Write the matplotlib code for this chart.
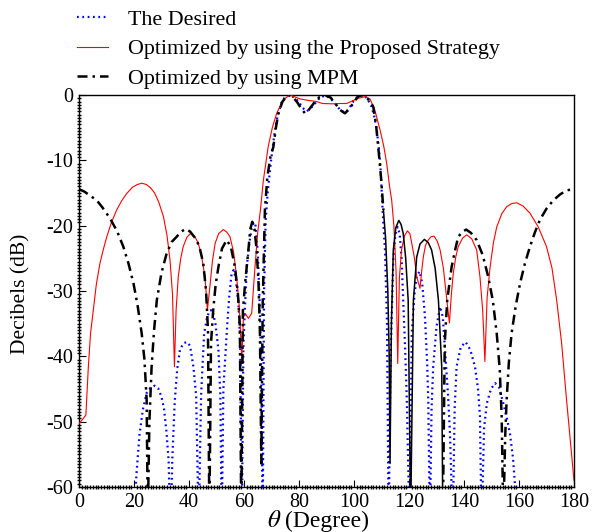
import numpy as np
import matplotlib
matplotlib.use("Agg")
import matplotlib.pyplot as plt
from matplotlib.ticker import MultipleLocator
from matplotlib.lines import Line2D

plt.rcParams['font.family'] = ['Liberation Serif', 'DejaVu Serif']
plt.rcParams['mathtext.fontset'] = 'stix'
plt.rcParams['axes.unicode_minus'] = False

# ---------------- data ----------------
red_theta = [0, 1, 2.5, 3.4, 4.2, 5.2, 6.3, 7.6, 8.8, 10.1, 11.8, 13.7, 15.5, 17.3, 19.5, 21.2, 22.8,
             24.5, 26.0, 27.5, 29.0, 30.7, 32.0, 33.1, 34.0, 34.7, 35.3, 36.1, 37.0, 37.9, 39.2, 40.5,
             42.0, 43.3, 44.5, 45.8, 46.7, 47.6, 48.5, 49.5, 50.8, 52.5, 53.8, 54.9, 56.2, 57.3, 58.3,
             59.2, 59.8, 60.7, 61.6, 62.8, 64.0, 65.0, 66.0, 67.0, 68.0, 68.8, 70.3, 71.9, 73.5, 75.0,
             76.7, 78.5, 80.4, 83.0, 86.4, 88.5, 92.0, 95.0, 97.3, 99.5, 101.6, 104.0, 105.8, 107.5,
             109.5, 110.8, 111.9, 113.0, 113.7, 114.5, 115.3, 115.9, 116.5, 117.3, 118.3, 119.4, 120.3,
             121.0, 122.0, 122.8, 124.0, 124.6, 125.2, 126.0, 127.0, 128.0, 129.1, 130.3, 131.3, 132.5,
             133.5, 134.7, 135.4, 136.1, 137.0, 137.9, 139.5, 141.0, 142.8, 144.6, 145.8, 146.8, 147.6,
             148.4, 149.5, 150.7, 151.9, 153.7, 155.5, 157.4, 159.2, 161.5, 164.0, 167.0, 170.0, 172.0,
             173.7, 175.5, 177.3, 180.0]
red_db = [-50.3, -49.8, -49.0, -41.6, -36.5, -32.9, -29.0, -25.8, -23.7, -21.7, -19.5, -17.6, -16.2,
          -15.1, -14.1, -13.7, -13.5, -13.7, -14.2, -15.0, -16.4, -18.6, -21.5, -25.3, -30.5, -41.6,
          -33.0, -27.8, -25.0, -23.2, -21.8, -21.2, -21.6, -22.6, -24.5, -27.8, -32.9, -29.3, -25.5,
          -22.7, -21.2, -20.6, -21.0, -21.7, -24.0, -27.8, -32.5, -40.6, -33.9, -33.6, -34.2, -33.4,
          -26.3, -21.0, -17.5, -13.2, -10.2, -7.9, -5.0, -2.8, -1.4, -0.5, 0.0, -0.3, -0.6, -0.8,
          -1.0, -1.3, -1.35, -1.3, -1.3, -0.9, -0.5, -0.25, -0.6, -2.2, -5.4, -7.8, -10.5, -14.2,
          -16.1, -20.0, -27.0, -41.1, -28.0, -23.7, -21.6, -20.8, -21.2, -22.7, -25.0, -27.8, -29.6,
          -27.0, -24.8, -23.0, -22.2, -21.7, -21.6, -22.4, -23.7, -26.5, -30.4, -34.9, -30.5, -27.3,
          -24.8, -23.2, -21.9, -21.4, -22.0, -23.7, -27.8, -33.0, -40.8, -31.0, -26.3, -22.6, -20.2,
          -18.2, -17.1, -16.6, -16.5, -17.0, -18.1, -20.2, -23.2, -26.5, -31.4, -38.0, -46.7, -59.0]

mpm_theta = [0, 2, 4, 6.4, 8.5, 11.3, 13.8, 16.1, 18.0, 19.8, 21.3, 22.8, 23.8, 24.6, 25.0, 25.6, 26.4,
             27.3, 28.3, 30.0, 31.9, 33.7, 35.5, 37.2, 38.8, 40.4, 42.8, 44.0, 45.2, 46.2, 46.9, 47.4,
             48.0, 48.8, 49.7, 50.7, 52.0, 53.7, 55.2, 56.7, 57.8, 58.5, 59.0, 59.6, 60.4, 61.6, 62.3,
             63.0, 63.8, 64.6, 65.3, 65.8, 66.3, 66.8, 67.6, 68.5, 69.6, 70.7, 71.6, 72.5, 74.0, 75.5,
             76.5, 78.0, 79.5, 81.0, 82.2, 83.5, 85.5, 87.5, 89.5, 91.5, 93.0, 95.0, 96.7, 98.2, 99.8,
             101.3, 102.8, 104.5, 105.7, 107.0, 108.0, 108.8, 109.8, 110.7, 111.5, 112.3, 112.8, 113.1,
             113.6, 114.3, 115.2, 116.3, 117.1, 117.9, 118.8, 119.7, 120.6, 121.6, 122.8, 124.0, 125.6,
             127.0, 128.2, 129.5, 130.7, 131.9, 132.3, 133.0, 133.9, 135.5, 137.0, 137.9, 139.5, 140.8,
             142.5, 144.6, 146.8, 148.8, 150.5, 151.9, 153.0, 153.7, 154.3, 155.0, 155.5, 156.3, 157.3,
             158.8, 160.4, 162.2, 164.0, 165.8, 167.6, 170.0, 172.5, 175.0, 177.3, 180.0]
mpm_db = [-14.4, -14.8, -15.4, -16.1, -17.2, -18.9, -20.8, -23.2, -25.8, -28.8, -32.2, -36.5, -40.5,
          -46.7, -65.0, -50.0, -41.6, -36.0, -31.4, -27.2, -24.2, -22.5, -21.7, -20.9, -20.5, -20.9,
          -22.2, -23.6, -25.8, -30.0, -36.0, -65.0, -38.0, -32.9, -29.0, -26.3, -23.5, -22.2, -23.2,
          -26.3, -30.5, -35.5, -65.0, -33.0, -28.8, -23.7, -20.5, -19.4, -20.5, -23.7, -29.0, -36.5,
          -56.4, -32.0, -17.6, -12.5, -9.5, -7.9, -5.0, -2.8, -1.0, -0.2, 0.0, -0.4, -1.2, -2.2, -2.8,
          -2.3, -1.2, -0.3, 0.0, -0.4, -1.2, -2.3, -2.8, -2.2, -1.2, -0.3, 0.0, -0.4, -0.9, -1.8, -4.5,
          -7.9, -12.5, -17.6, -22.0, -30.0, -40.0, -56.4, -35.0, -23.7, -20.3, -19.2, -19.8, -21.2,
          -25.0, -31.4, -65.0, -31.4, -24.8, -22.8, -22.1, -22.6, -23.7, -26.5, -31.4, -41.6, -65.0,
          -38.0, -31.4, -26.3, -23.3, -21.7, -20.9, -20.6, -21.1, -22.2, -24.5, -27.8, -31.5, -36.5,
          -42.0, -49.2, -65.0, -52.0, -46.7, -41.0, -36.5, -32.3, -28.8, -25.7, -23.2, -21.0, -19.1,
          -17.4, -16.1, -15.2, -14.6, -14.4]

des_theta = [19.8, 20.9, 22.0, 23.2, 24.6, 26.0, 27.5, 28.8, 30.0, 30.9, 31.8, 32.6, 33.3, 33.9, 34.8,
             35.7, 36.7, 38.0, 39.2, 40.4, 41.6, 42.6, 43.5, 44.4, 45.5, 46.6, 47.5, 48.5, 49.6, 50.7,
             51.4, 51.9, 52.5, 53.7, 54.6, 55.5, 56.2, 57.0, 58.0, 58.6, 59.2, 59.8, 61.0, 62.0, 62.8,
             63.6, 64.2, 65.0, 65.8, 66.4, 66.8, 67.3, 67.9, 68.6, 69.7, 70.8, 71.9, 73.7, 75.2, 76.6,
             78.3, 79.8, 81.4, 82.8, 84.3, 85.8, 87.8, 89.7, 91.4, 93.1, 95.0, 96.7, 98.2, 99.7, 101.5,
             103.2, 104.8, 106.4, 107.5, 108.3, 109.0, 109.6, 110.4, 111.3, 112.0, 112.6, 113.3, 114.3,
             115.0, 115.8, 116.6, 117.3, 117.9, 118.6, 119.2, 120.2, 121.0, 122.0, 122.8, 123.8, 124.8,
             125.8, 126.6, 127.0, 127.6, 128.2, 128.8, 130.0, 131.3, 132.3, 133.1, 134.2, 134.9, 135.9,
             136.6, 137.3, 138.8, 140.6, 142.3, 144.0, 145.1, 145.8, 146.4, 147.3, 148.3, 149.8, 151.3,
             152.8, 154.3, 155.7, 156.7, 157.8, 158.6, 159.6]
des_db = [-66.0, -58.0, -52.0, -48.2, -45.6, -44.8, -44.5, -44.9, -46.2, -48.0, -51.5, -56.0, -68.0,
          -56.0, -47.0, -42.0, -39.0, -38.0, -37.8, -38.4, -41.6, -46.0, -66.0, -46.0, -36.5, -34.0,
          -33.0, -32.9, -35.0, -39.0, -46.0, -66.0, -45.0, -36.5, -31.0, -27.3, -26.8, -28.0, -32.0,
          -38.0, -66.0, -38.0, -26.3, -22.5, -20.4, -19.5, -20.0, -24.0, -33.0, -46.7, -66.0, -30.0,
          -19.0, -15.0, -10.5, -6.8, -3.8, -1.0, -0.2, 0.0, -0.4, -1.0, -2.0, -2.5, -2.0, -1.3, -0.3,
          -0.1, -0.5, -1.3, -2.3, -2.7, -2.1, -1.0, -0.2, 0.0, -0.5, -1.8, -3.5, -5.4, -8.0, -10.8,
          -17.6, -24.0, -35.0, -66.0, -40.0, -25.0, -21.5, -20.2, -21.2, -25.0, -31.4, -39.0, -46.7,
          -66.0, -36.5, -30.5, -27.8, -27.0, -28.8, -33.9, -41.0, -46.7, -66.0, -48.0, -41.6, -35.5,
          -32.4, -34.0, -39.0, -46.0, -51.8, -66.0, -48.0, -41.6, -38.6, -37.8, -39.0, -41.6, -45.0,
          -49.2, -66.0, -51.0, -47.2, -45.0, -44.1, -44.8, -47.2, -49.7, -51.8, -55.5, -60.0, -66.0]

x_ticks = [0, 20, 40, 60, 80, 100, 120, 140, 160, 180]
y_ticks = [0, -10, -20, -30, -40, -50, -60]
labels = ["The Desired", "Optimized by using the Proposed Strategy", "Optimized by using MPM"]

# ---------------- figure ----------------
W, H = 592, 532
fig = plt.figure(figsize=(W/100, H/100), dpi=100)
ax = fig.add_axes([79/W, 1-487/H, (574-79)/W, (487-95)/H])

mpm_t = np.array(mpm_theta)
mpm_v = np.array(mpm_db)
dd_style = dict(color='black', lw=1.8, dashes=(4, 2, 1, 2))
blue_style = dict(color='blue', lw=1.6, linestyle=(0, (0.8, 1.6)))

ax.plot(des_theta, des_db, zorder=2, **blue_style)
ax.plot(red_theta, red_db, color='red', lw=0.8, zorder=3)
left = mpm_t <= 110.7
solid = (mpm_t >= 110.5) & (mpm_t <= 132.3)
right = mpm_t >= 132.3
ax.plot(mpm_t[left], mpm_v[left], zorder=4, **dd_style)
ax.plot(mpm_t[solid], mpm_v[solid], color='black', lw=1.1, zorder=4)
ax.plot(mpm_t[right], mpm_v[right], zorder=4, **dd_style)

ax.set_xlim(0, 180)
ax.set_ylim(-60, 0)
ax.set_xticks(x_ticks)
ax.set_yticks(y_ticks)
ax.xaxis.set_minor_locator(MultipleLocator(1))
ax.yaxis.set_minor_locator(MultipleLocator(0.5))
ax.tick_params(which='major', direction='in', length=5, width=0.8, labelsize=14.5, pad=4)
ax.tick_params(which='minor', direction='inout', length=2.5, width=1.0)
for sp in ax.spines.values():
    sp.set_linewidth(1.0)

ax.set_ylabel("Decibels (dB)", fontsize=15.5, va='center')
ax.yaxis.set_label_coords(-(79-21)/495, (487-294)/392)

# x label: large italic theta followed by "(Degree)"
fig.text(267/W, 1-527/H, r"$\theta$", fontsize=18, ha='left', va='baseline')
fig.text(285/W, 1-527/H, "(Degree)", fontsize=17, ha='left', va='baseline')

handles = [Line2D([], [], **blue_style),
           Line2D([], [], color='red', lw=0.8),
           Line2D([], [], **dd_style)]
fig.legend(handles, labels, loc='upper left', bbox_to_anchor=(73/W, 1-5/H), frameon=False,
           fontsize=15.8, handlelength=1.4, handletextpad=0.9, labelspacing=0.42,
           borderaxespad=0.0, borderpad=0.2)

fig.savefig("out.png", dpi=100)
